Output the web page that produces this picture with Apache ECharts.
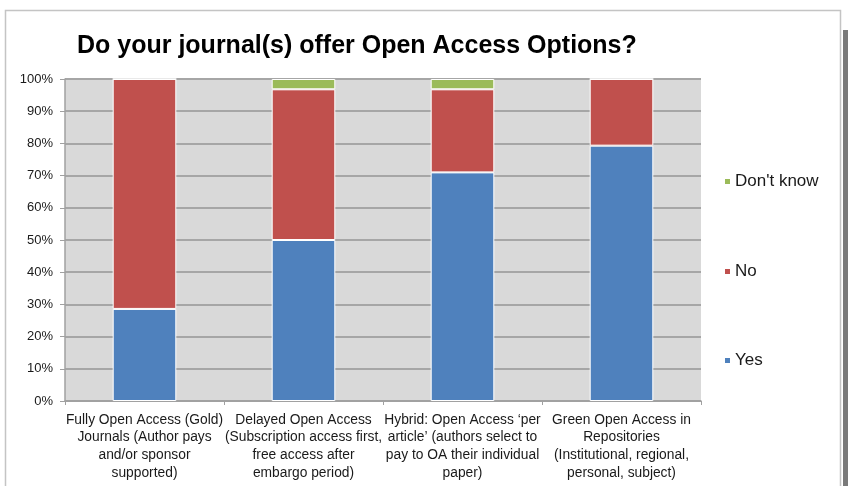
<!DOCTYPE html>
<html>
<head>
<meta charset="utf-8">
<script src="https://cdn.jsdelivr.net/npm/echarts@6/dist/echarts.min.js"></script>
<style>
  html, body { margin: 0; padding: 0; background: #ffffff; }
  #chart { width: 848px; height: 486px; }
</style>
</head>
<body>
<div id="chart"></div>
<script>
// Survey answers, percent of respondents per access model
const categories = [
  'Fully Open Access (Gold)\nJournals (Author pays\nand/or sponsor\nsupported)',
  'Delayed Open Access\n(Subscription access first,\nfree access after\nembargo period)',
  'Hybrid: Open Access \u2018per\narticle\u2019 (authors select to\npay to OA their individual\npaper)',
  'Green Open Access in\nRepositories\n(Institutional, regional,\npersonal, subject)'
];
const yesValues = [28.6, 50.0, 71.0, 79.3];
const noValues = [71.4, 46.8, 25.8, 20.7];
const dontKnowValues = [0, 3.2, 3.2, 0];
const yTicks = [0, 10, 20, 30, 40, 50, 60, 70, 80, 90, 100];

const chart = echarts.init(document.getElementById('chart'));
const font = '"Liberation Sans", Arial, sans-serif';

function legendAt(name, top) {
  return {
    data: [name], left: 718, top: top, orient: 'vertical',
    itemWidth: 7, itemHeight: 7, icon: 'rect', itemGap: 0,
    textStyle: { fontFamily: font, fontSize: 17, color: '#1a1a1a', padding: [0, 0, 0, -1] }
  };
}

chart.setOption({
  animation: false,
  backgroundColor: '#ffffff',
  graphic: [
    // frame around the chart with a dark shadow strip on the right
    { type: 'rect', shape: { x: 5.5, y: 10.5, width: 835, height: 490 },
      style: { fill: 'none', stroke: '#c4c4c4', lineWidth: 1.5 }, z: -1 },
    { type: 'rect', shape: { x: 843, y: 30, width: 5, height: 460 },
      style: { fill: '#7a7a7a' }, z: -1 }
  ],
  title: {
    text: 'Do your journal(s) offer Open Access Options?',
    left: 72, top: 29,
    textStyle: { fontFamily: font, fontSize: 25, fontWeight: 'bold', color: '#000000' }
  },
  legend: [
    legendAt("Don't know", 168),
    legendAt('No', 258),
    legendAt('Yes', 347)
  ],
  grid: {
    left: 65, right: 147, top: 79, bottom: 85,
    show: true, backgroundColor: '#d9d9d9', borderWidth: 0
  },
  xAxis: {
    type: 'category', data: categories,
    axisLine: { lineStyle: { color: '#a0a0a0', width: 1.5 } },
    axisTick: { show: true, length: 4, lineStyle: { color: '#a0a0a0' } },
    axisLabel: {
      interval: 0, margin: 10, lineHeight: 17.7,
      fontFamily: font, fontSize: 13.8, color: '#1a1a1a', align: 'center'
    }
  },
  yAxis: {
    type: 'value', min: yTicks[0], max: yTicks[yTicks.length - 1], interval: 10,
    axisLine: { show: true, lineStyle: { color: '#a0a0a0', width: 1.5 } },
    axisTick: { show: true, length: 5, lineStyle: { color: '#a0a0a0' } },
    splitLine: { lineStyle: { color: '#a6a6a6', width: 2 } },
    axisLabel: { formatter: '{value}%', fontFamily: font, fontSize: 13, color: '#1a1a1a', margin: 12 }
  },
  series: [
    { name: 'Yes', type: 'bar', stack: 'all', data: yesValues, barCategoryGap: '60%',
      itemStyle: { color: '#4f81bd', borderColor: '#ffffff', borderWidth: 1 } },
    { name: 'No', type: 'bar', stack: 'all', data: noValues,
      itemStyle: { color: '#c0504d', borderColor: '#ffffff', borderWidth: 1 } },
    { name: "Don't know", type: 'bar', stack: 'all', data: dontKnowValues,
      itemStyle: { color: '#9bbb59', borderColor: '#ffffff', borderWidth: 1 } }
  ]
});
</script>
</body>
</html>
